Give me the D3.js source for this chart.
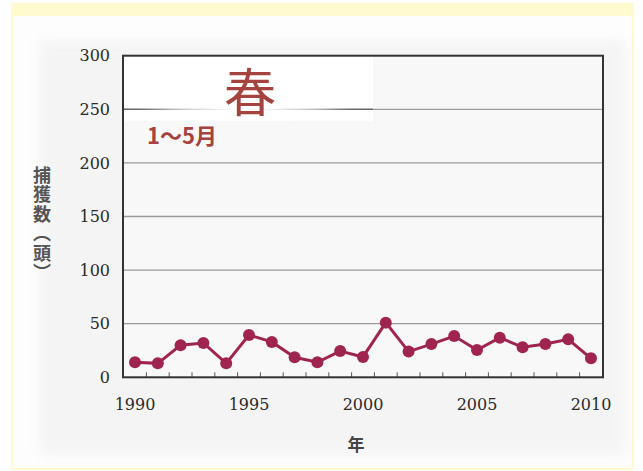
<!DOCTYPE html>
<html><head><meta charset="utf-8">
<script src="https://cdn.jsdelivr.net/npm/d3@7"></script>
<style>html,body{margin:0;padding:0;background:#fff;}svg{display:block;}</style>
</head><body>
<svg id="c" width="643" height="471"></svg>
<script>
const years = [1990,1991,1992,1993,1994,1995,1996,1997,1998,1999,2000,2001,2002,2003,2004,2005,2006,2007,2008,2009,2010];
const catches = [14,13,30,32,13,39.5,33,18.7,14,24.5,19,51,24,31,38.5,25.5,37,28,31,35.5,17.7];
const yTicks = [0,50,100,150,200,250,300];
const xTickLabels = [1990,1995,2000,2005,2010];
const seasonTitle = "春";
const seasonMonths = "1〜5月";
const yTitle = "捕獲数（頭）";
const xTitle = "年";

const svg = d3.select("#c");
const defs = svg.append("defs");
defs.append("filter").attr("id","blur").attr("x","-50%").attr("y","-50%").attr("width","200%").attr("height","200%")
  .append("feGaussianBlur").attr("stdDeviation",6);

// frame
svg.append("rect").attr("x",11).attr("y",3).attr("width",623).attr("height",467).attr("fill","#fffbcf");
svg.append("rect").attr("x",13).attr("y",16).attr("width",619).attr("height",452).attr("fill","#fdfdfd");
svg.append("rect").attr("x",40).attr("y",40).attr("width",585).attr("height",415).attr("fill","#f1f1f1").attr("filter","url(#blur)").attr("opacity",0.7);

const x = d3.scaleLinear().domain([1990,2010]).range([135,591]);
const y = d3.scaleLinear().domain([0,300]).range([377.3,55.7]);
const L = 123, R = 603;

svg.append("rect").attr("x",L).attr("y",y(300)).attr("width",R-L).attr("height",y(0)-y(300)).attr("fill","#f9f8f8");

// gridlines
svg.append("g").selectAll("line").data(yTicks.filter(d=>d>0 && d<300)).join("line")
  .attr("x1",L).attr("x2",R).attr("y1",d=>y(d)).attr("y2",d=>y(d))
  .attr("stroke","#9a9a9a").attr("stroke-width",1.3);

// white patch behind title
svg.append("rect").attr("x",L).attr("y",y(300)).attr("width",373-L).attr("height",121-y(300)).attr("fill","#ffffff");
svg.append("line").attr("x1",L).attr("x2",373).attr("y1",y(250)).attr("y2",y(250)).attr("stroke","#666").attr("stroke-width",1.6);
svg.append("ellipse").attr("cx",245).attr("cy",90).attr("rx",112).attr("ry",26).attr("fill","#ffffff").attr("filter","url(#blur)");
svg.append("ellipse").attr("cx",245).attr("cy",90).attr("rx",95).attr("ry",20).attr("fill","#ffffff");

// x ticks (category boundaries)
svg.append("g").selectAll("line").data(years.slice(0,-1)).join("line")
  .attr("x1",d=>x(d+0.5)).attr("x2",d=>x(d+0.5)).attr("y1",y(0)).attr("y2",y(0)-5)
  .attr("stroke","#555").attr("stroke-width",1);

// plot border
svg.append("rect").attr("x",L).attr("y",y(300)).attr("width",R-L).attr("height",y(0)-y(300))
  .attr("fill","none").attr("stroke","#333").attr("stroke-width",2);

// y tick labels
svg.append("g").selectAll("text").data(yTicks).join("text")
  .attr("x",110).attr("y",d=>y(d)).attr("dy","0.36em").attr("text-anchor","end")
  .attr("font-family","DejaVu Serif").attr("font-size",16).attr("fill","#2a2a2a").text(d=>d);

// x tick labels
svg.append("g").selectAll("text").data(xTickLabels).join("text")
  .attr("x",d=>x(d)).attr("y",410).attr("text-anchor","middle")
  .attr("font-family","DejaVu Serif").attr("font-size",16).attr("fill","#2a2a2a").text(d=>d);

// axis titles
svg.append("text").attr("x",356).attr("y",451).attr("text-anchor","middle")
  .attr("font-family","Noto Sans CJK JP").attr("font-weight","bold").attr("font-size",17).attr("fill","#444").text(xTitle);
svg.append("text").attr("x",42).attr("y",166)
  .attr("style","writing-mode: vertical-rl; text-orientation: upright;")
  .attr("font-family","Noto Sans CJK JP").attr("font-weight","bold").attr("font-size",18)
  .attr("letter-spacing",1.5).attr("fill","#555").text(yTitle);

// line + markers
const col = "#a02450";
svg.append("path").datum(years.map((yr,i)=>[yr,catches[i]]))
  .attr("d",d3.line().x(d=>x(d[0])).y(d=>y(d[1])))
  .attr("fill","none").attr("stroke",col).attr("stroke-width",3);
svg.append("g").selectAll("circle").data(years.map((yr,i)=>[yr,catches[i]])).join("circle")
  .attr("cx",d=>x(d[0])).attr("cy",d=>y(d[1])).attr("r",6).attr("fill",col);

// season labels
svg.append("text").attr("x",250).attr("y",112).attr("text-anchor","middle")
  .attr("font-family","Noto Sans CJK JP").attr("font-size",52).attr("fill","#a5433f").text(seasonTitle);
svg.append("text").attr("x",147).attr("y",144).attr("text-anchor","start")
  .attr("font-family","Noto Sans CJK JP").attr("font-weight","bold").attr("font-size",22).attr("fill","#a5433f").text(seasonMonths);
</script>
</body></html>
